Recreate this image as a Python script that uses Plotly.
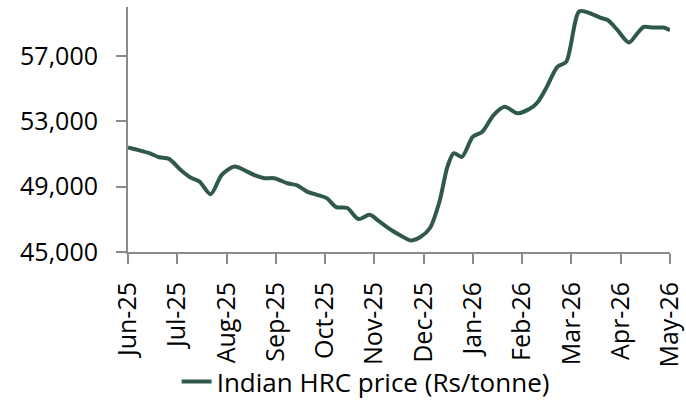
import pandas as pd
import plotly.graph_objects as go

# Observation dates and Indian HRC price (Rs/tonne)
dates = ["2025-06-01", "2025-06-08", "2025-06-14", "2025-06-20", "2025-06-26",
         "2025-07-03", "2025-07-09", "2025-07-15", "2025-07-22", "2025-07-29",
         "2025-08-06", "2025-08-13", "2025-08-19", "2025-08-25", "2025-08-31",
         "2025-09-08", "2025-09-14", "2025-09-20", "2025-09-26",
         "2025-10-02", "2025-10-08", "2025-10-15", "2025-10-22", "2025-10-29",
         "2025-11-04", "2025-11-12", "2025-11-18", "2025-11-23", "2025-11-29",
         "2025-12-05", "2025-12-11", "2025-12-16", "2025-12-20", "2025-12-25",
         "2026-01-01", "2026-01-07", "2026-01-14", "2026-01-21", "2026-01-29",
         "2026-02-07", "2026-02-10", "2026-02-15", "2026-02-21", "2026-02-26",
         "2026-03-06", "2026-03-13", "2026-03-19", "2026-03-24", "2026-03-30",
         "2026-04-06", "2026-04-11", "2026-04-15", "2026-04-21", "2026-04-27",
         "2026-05-01"]

prices = [51400, 51220, 51050, 50800, 50700,
          50030, 49580, 49310, 48540, 49720,
          50230, 49965, 49690, 49520, 49520,
          49210, 49080, 48700, 48500,
          48300, 47750, 47690, 47015, 47280,
          46870, 46300, 45950, 45710, 45920,
          46470, 48100, 50230, 51050, 50820,
          52060, 52365, 53385, 53890, 53490,
          53890, 54200, 55110, 56335, 56640,
          59740, 59600, 59350, 59190, 58580,
          57825, 58370, 58780, 58740, 58740,
          58580]

month_labels = ["Jun-25", "Jul-25", "Aug-25", "Sep-25", "Oct-25", "Nov-25",
                "Dec-25", "Jan-26", "Feb-26", "Mar-26", "Apr-26", "May-26"]

y_ticks = [45000, 49000, 53000, 57000]
y_range = [45000, 60000]
series_name = "Indian HRC price (Rs/tonne)"


def month_pos(d):
    """Position on a month-based axis where every month has equal width."""
    t = pd.Timestamp(d)
    idx = (t.year - 2025) * 12 + (t.month - 6)
    return idx + (t.day - 1) / t.days_in_month


x_pos = [month_pos(d) for d in dates]

FONT = "Open Sans"
AXIS_COLOR = "#8a8a8a"
LINE_COLOR = "#2F5A4B"

fig = go.Figure()
fig.add_trace(go.Scatter(
    x=x_pos, y=prices, mode="lines", name=series_name,
    line=dict(color=LINE_COLOR, width=4, shape="spline", smoothing=0.8),
    cliponaxis=False,
    hovertext=dates,
))

fig.update_layout(
    width=686, height=401,
    margin=dict(l=128, r=16, t=7, b=149, autoexpand=False),
    paper_bgcolor="white", plot_bgcolor="white",
    font=dict(family=FONT, size=25, color="#000000"),
    showlegend=True,
    legend=dict(
        orientation="h", xref="container", yref="container",
        x=0.533, xanchor="center", y=0.107, yanchor="top",
        font=dict(family=FONT, size=26, color="#000000"),
        bgcolor="rgba(0,0,0,0)",
    ),
    xaxis=dict(
        range=[0, 11],
        automargin=False,
        tickmode="array",
        tickvals=list(range(len(month_labels))),
        ticktext=month_labels,
        tickangle=-90,
        showgrid=False, zeroline=False,
        showline=True, linecolor=AXIS_COLOR, linewidth=2,
        ticks="outside", ticklen=10, tickwidth=2, tickcolor=AXIS_COLOR,
        tickfont=dict(family=FONT, size=25, color="#000000"),
        ticklabelstandoff=8,
    ),
    yaxis=dict(
        range=y_range,
        automargin=False,
        tickmode="array",
        tickvals=y_ticks,
        ticktext=[f"{v:,}" for v in y_ticks],
        showgrid=False, zeroline=False,
        showline=True, linecolor=AXIS_COLOR, linewidth=2,
        ticks="outside", ticklen=10, tickwidth=2, tickcolor=AXIS_COLOR,
        tickfont=dict(family=FONT, size=25, color="#000000"),
        ticklabelstandoff=13,
    ),
)

fig.write_html(
    "out.html",
    config={"displayModeBar": False},
    post_script="document.body.style.margin='0';document.body.style.overflow='hidden';",
)
